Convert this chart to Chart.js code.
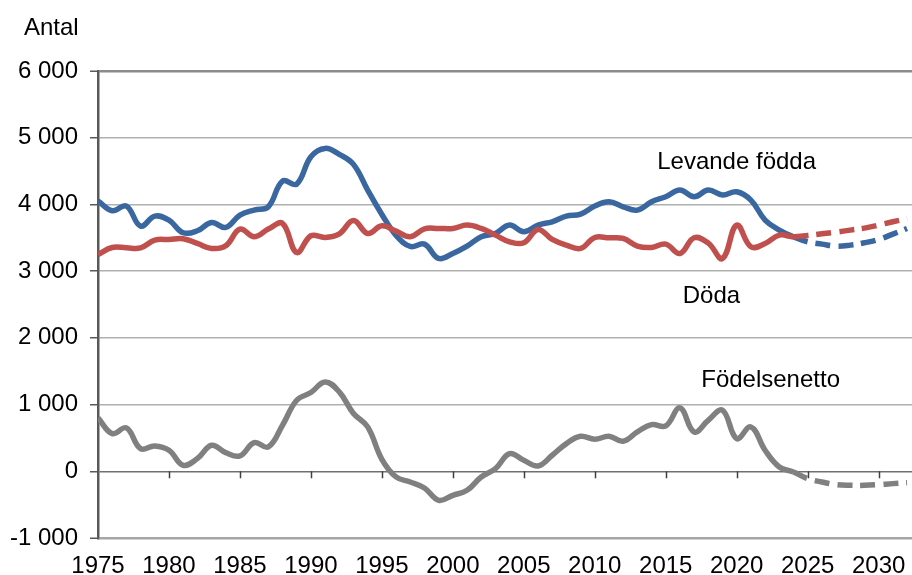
<!DOCTYPE html>
<html>
<head>
<meta charset="utf-8">
<script src="https://cdn.jsdelivr.net/npm/chart.js@4/dist/chart.umd.min.js"></script>
<style>
  html, body { margin: 0; padding: 0; background: #fff; }
  #wrap { width: 912px; height: 575px; }
</style>
</head>
<body>
<div id="wrap"><canvas id="myChart" width="912" height="575"></canvas></div>
<script>
// years 1975-2024 are outcome, 2024-2032 forecast (dashed)
var years = [1975, 1976, 1977, 1978, 1979, 1980, 1981, 1982, 1983, 1984,
    1985, 1986, 1987, 1988, 1989, 1990, 1991, 1992, 1993, 1994,
    1995, 1996, 1997, 1998, 1999, 2000, 2001, 2002, 2003, 2004,
    2005, 2006, 2007, 2008, 2009, 2010, 2011, 2012, 2013, 2014,
    2015, 2016, 2017, 2018, 2019, 2020, 2021, 2022, 2023, 2024,
    2025, 2026, 2027, 2028, 2029, 2030, 2031, 2032];
var forecastStart = 2024;

var levandeFodda = [4050, 3905, 3975, 3675, 3825, 3765, 3575, 3605, 3730, 3655,
    3840, 3915, 3965, 4350, 4305, 4715, 4840, 4750, 4600, 4215,
    3850, 3535, 3370, 3405, 3190, 3265, 3375, 3515, 3565, 3690,
    3590, 3690, 3740, 3825, 3855, 3975, 4040, 3965, 3915, 4040,
    4115, 4215, 4115, 4215, 4140, 4190, 4065, 3765, 3615, 3515,
    3440, 3405, 3375, 3390, 3425, 3475, 3555, 3640];

var doda = [3250, 3355, 3350, 3350, 3465, 3475, 3485, 3415, 3340, 3380,
    3630, 3515, 3630, 3715, 3280, 3530, 3505, 3560, 3760, 3565,
    3680, 3600, 3515, 3635, 3640, 3640, 3690, 3640, 3540, 3440,
    3425, 3625, 3475, 3390, 3340, 3505, 3500, 3490, 3375, 3355,
    3405, 3265, 3500, 3420, 3190, 3690, 3365, 3415, 3540, 3515,
    3535, 3560, 3585, 3615, 3645, 3690, 3740, 3785];

var fodelsenetto = [800, 565, 650, 340, 380, 315, 90, 190, 390, 280,
    230, 430, 365, 690, 1065, 1180, 1340, 1190, 865, 665,
    180, -85, -160, -250, -435, -360, -285, -85, 40, 265,
    165, 80, 240, 415, 525, 480, 525, 450, 590, 700,
    680, 950, 590, 765, 915, 490, 665, 315, 65, -10,
    -110, -160, -200, -210, -210, -200, -185, -170];

var yTicks = [-1000, 0, 1000, 2000, 3000, 4000, 5000, 6000];

// series labels placed inside the plot (year, value of left/middle point)
var seriesLabels = [
    { text: "Levande födda", x: 2014.4, y: 4630 },
    { text: "Döda", x: 2016.2, y: 2620 },
    { text: "Födelsenetto", x: 2017.5, y: 1365 }
];

var FAMILY = "'Liberation Sans', Arial, sans-serif";
var FONT = "24px " + FAMILY;

function toPoints(arr) {
    var out = [];
    for (var i = 0; i < years.length; i++) {
        out.push({ x: years[i], y: arr[i] });
    }
    return out;
}

function fmt(v) {
    var s = String(Math.abs(v)).replace(/\B(?=(\d{3})+(?!\d))/g, " ");
    return (v < 0 ? "-" : "") + s;
}

function makeSet(label, arr, color) {
    return {
        label: label,
        data: toPoints(arr),
        borderColor: color,
        backgroundColor: color,
        borderWidth: 5.5,
        pointRadius: 0,
        tension: 0.4,
        borderCapStyle: "butt",
        borderJoinStyle: "round",
        segment: {
            borderDash: function (ctx) {
                return ctx.p0.parsed.x >= forecastStart ? [15, 8] : undefined;
            }
        }
    };
}

var extras = {
    id: "extras",
    beforeDraw: function (chart) {
        var c = chart.ctx;
        c.save();
        c.fillStyle = "#fff";
        c.fillRect(0, 0, chart.width, chart.height);
        c.restore();
    },
    afterDatasetsDraw: function (chart) {
        var c = chart.ctx;
        var xs = chart.scales.x;
        var ys = chart.scales.y;
        c.save();
        // tick marks on the zero line
        var y0 = ys.getPixelForValue(0);
        c.strokeStyle = "#404040";
        c.lineWidth = 1.5;
        for (var yr = 1980; yr <= 2030; yr += 5) {
            var px = Math.round(xs.getPixelForValue(yr)) + 0.5;
            c.beginPath();
            c.moveTo(px, y0);
            c.lineTo(px, y0 + 7);
            c.stroke();
        }
        // texts
        c.fillStyle = "#000";
        c.font = FONT;
        c.textBaseline = "middle";
        c.textAlign = "left";
        seriesLabels.forEach(function (l) {
            c.fillText(l.text, xs.getPixelForValue(l.x), ys.getPixelForValue(l.y));
        });
        c.fillText("Antal", 24, 28);
        c.restore();
    }
};

var ctx = document.getElementById("myChart");
var myChart = new Chart(ctx, {
    type: "line",
    data: {
        datasets: [
            makeSet("Födelsenetto", fodelsenetto, "#808080"),
            makeSet("Döda", doda, "#c0504d"),
            makeSet("Levande födda", levandeFodda, "#3a67a0")
        ]
    },
    options: {
        responsive: false,
        animation: false,
        devicePixelRatio: 1,
        layout: { padding: { top: 71, right: 0, bottom: 0, left: 0 } },
        plugins: {
            legend: { display: false },
            tooltip: { enabled: false }
        },
        scales: {
            x: {
                type: "linear",
                min: 1975,
                max: 2032.35,
                afterFit: function (scale) {
                    scale.height = 37;
                    scale.paddingLeft = 0;
                    scale.paddingRight = 0;
                },
                grid: { display: false, drawTicks: false },
                border: { display: false },
                ticks: {
                    stepSize: 5,
                    includeBounds: false,
                    autoSkip: false,
                    maxRotation: 0,
                    color: "#000",
                    font: { family: FAMILY, size: 24 },
                    padding: 14,
                    callback: function (v) { return String(v); }
                }
            },
            y: {
                min: -1000,
                max: 6000,
                afterFit: function (scale) { scale.width = 98; },
                afterBuildTicks: function (scale) {
                    scale.ticks = yTicks.map(function (v) { return { value: v }; });
                },
                border: { display: true, color: "#595959", width: 2.5 },
                grid: {
                    color: function (c) {
                        var v = c.tick.value;
                        if (v === 6000) return "#8c8c8c";
                        if (v === -1000) return "#a6a6a6";
                        if (v === 0) return "#707070";
                        return "#b0b0b0";
                    },
                    lineWidth: function (c) {
                        var v = c.tick.value;
                        if (v === 6000 || v === -1000) return 2.5;
                        return 1.5;
                    },
                    tickColor: "#595959",
                    tickWidth: 1.5,
                    tickLength: 8
                },
                ticks: {
                    color: "#000",
                    font: { family: FAMILY, size: 24 },
                    padding: 12,
                    callback: function (v) { return fmt(v); }
                }
            }
        }
    },
    plugins: [extras]
});
</script>
</body>
</html>
